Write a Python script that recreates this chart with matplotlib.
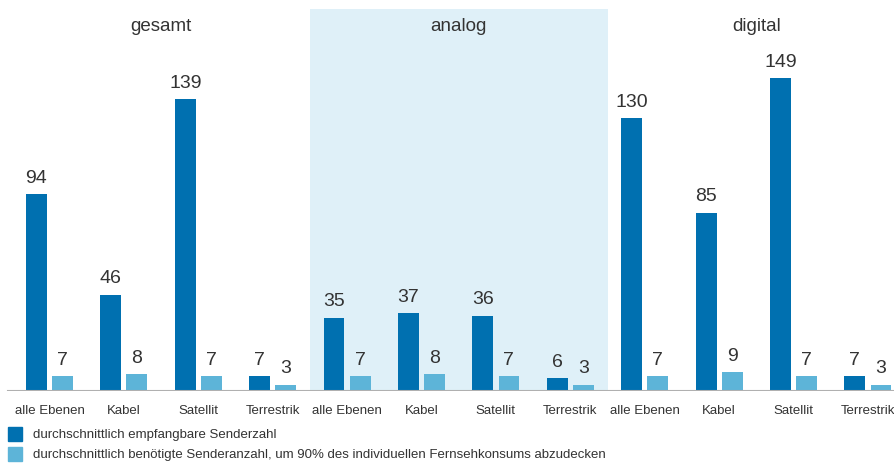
import matplotlib.pyplot as plt
from matplotlib.patches import Rectangle
import numpy as np

plt.rcParams['font.family'] = ['Liberation Sans', 'DejaVu Sans']

# Senderzahlen je Empfangsebene
categories = ['alle Ebenen', 'Kabel', 'Satellit', 'Terrestrik'] * 3
sections = ['gesamt', 'analog', 'digital']
empfangbar = [94, 46, 139, 7, 35, 37, 36, 6, 130, 85, 149, 7]
benoetigt = [7, 8, 7, 3, 7, 8, 7, 3, 7, 9, 7, 3]
legend_labels = ['durchschnittlich empfangbare Senderzahl',
                 'durchschnittlich benötigte Senderanzahl, um 90% des individuellen Fernsehkonsums abzudecken']

dark = '#0070b0'
light = '#5db4d8'
shade = '#dff0f8'
text_col = '#333333'

fig = plt.figure(figsize=(8.95, 4.64), dpi=100)
ax = fig.add_axes([0, 0.155, 1, 0.823])

x = np.arange(len(categories))
w = 0.28
off = 0.175

ax.axvspan(3.5, 7.5, color=shade, zorder=0, lw=0)
b1 = ax.bar(x - off, empfangbar, w, color=dark, zorder=2)
b2 = ax.bar(x + off, benoetigt, w, color=light, zorder=2)

for bars in (b1, b2):
    for rect in bars:
        ax.annotate(f'{rect.get_height():g}',
                    (rect.get_x() + rect.get_width() / 2, rect.get_height()),
                    xytext=(0, 6), textcoords='offset points',
                    ha='center', va='bottom', fontsize=14, color=text_col)

for i, name in enumerate(sections):
    ax.text(i * 4 + 1.5, 174, name, ha='center', va='center',
            fontsize=13.5, color=text_col)

ax.set_xlim(-0.665, 11.364)
ax.set_ylim(0, 182)
ax.set_xticks(x)
ax.set_xticklabels(categories, fontsize=9.5, color=text_col)
ax.tick_params(axis='x', length=0, pad=9)
ax.set_yticks([])
for s in ax.spines.values():
    s.set_visible(False)
ax.axhline(0, xmin=8 / 895, xmax=1, color='#b0b0b0', lw=1.5, zorder=3)

# Legende unter der Grafik
for j, (label, col) in enumerate(zip(legend_labels, [dark, light])):
    y = 1 - (435 + 20 * j) / 464
    fig.patches.append(Rectangle((8 / 895, y - 7 / 464), 14 / 895, 14 / 464,
                                 transform=fig.transFigure, color=col))
    fig.text(33 / 895, y, label, va='center', ha='left',
             fontsize=9.5, color=text_col)

fig.savefig('out.png', dpi=100)
